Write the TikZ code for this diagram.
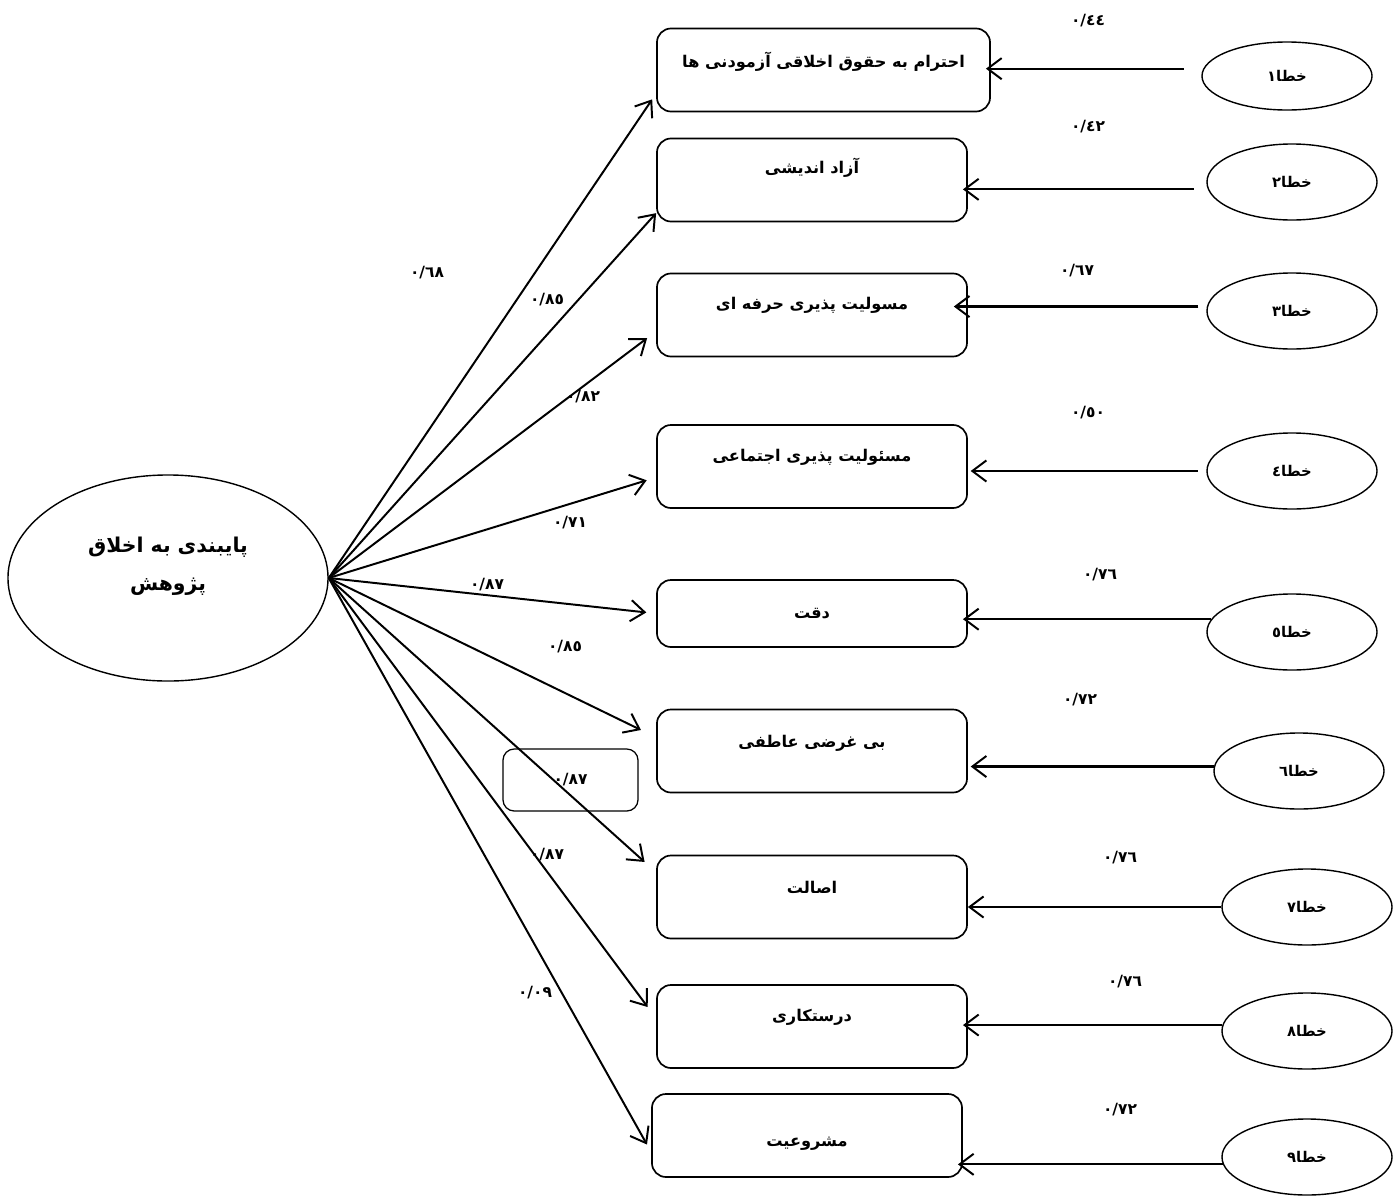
\documentclass[tikz,border=0pt]{standalone}
\usepackage{fontspec}
\usetikzlibrary{arrows.meta,shapes.geometric}
\newfontfamily\farsifont[Script=Arabic]{DejaVu Sans}
\TeXXeTstate=1
\tikzset{
  itembox/.style={draw, line width=1.2pt, rounded corners=10pt, minimum width=7.75cm, minimum height=2.075cm},
  itemtext/.style={font=\farsifont\bfseries\fontsize{11.5}{13}\selectfont},
  errnode/.style={draw, ellipse, line width=1pt, minimum width=4.25cm, minimum height=1.9cm, inner sep=0pt,
    font=\farsifont\bfseries\fontsize{10.5}{12}\selectfont},
  latent/.style={draw, ellipse, line width=1pt, minimum width=8cm, minimum height=5.15cm},
  latenttext/.style={font=\farsifont\bfseries\fontsize{14.5}{27}\selectfont, align=center},
  coef/.style={font=\farsifont\bfseries\fontsize{11}{12}\selectfont, inner sep=1pt},
  floatbox/.style={draw, line width=0.9pt, rounded corners=8pt, minimum width=3.375cm, minimum height=1.55cm, coef},
  patharrow/.style={line width=1.4pt, -{Straight Barb[length=10pt,width=15pt,line width=1.4pt]}},
  errarrow/.style={line width=1.5pt, -{Straight Barb[length=10pt,width=15pt,line width=1.4pt]}}
}
\begin{document}
\begin{tikzpicture}[x=0.025cm,y=-0.025cm]
\useasboundingbox (0,0) rectangle (1397,1198);
% Latent variable
\node[latent, label={[latenttext,yshift=8.5pt]center:{\beginR پایبندی به اخلاق\endR\\\beginR پژوهش\endR}}] (lat) at (168,578) {};
% Indicators
\node[itembox, minimum width=8.325cm, label={[itemtext,yshift=5.7pt]center:{\beginR احترام به حقوق اخلاقی آزمودنی ها\endR}}] (b1) at (823.5,70) {};
\node[itembox, label={[itemtext,yshift=8.5pt]center:{\beginR آزاد اندیشی\endR}}] (b2) at (812,180) {};
\node[itembox, label={[itemtext,yshift=7pt]center:{\beginR مسولیت پذیری حرفه ای\endR}}] (b3) at (812,315) {};
\node[itembox, label={[itemtext,yshift=6.7pt]center:{\beginR مسئولیت پذیری اجتماعی\endR}}] (b4) at (812,466.5) {};
\node[itembox, minimum height=1.675cm, label={[itemtext]center:{\beginR دقت\endR}}] (b5) at (812,613.5) {};
\node[itembox, label={[itemtext,yshift=5.7pt]center:{\beginR بی غرضی عاطفی\endR}}] (b6) at (812,751) {};
\node[itembox, label={[itemtext,yshift=7pt]center:{\beginR اصالت\endR}}] (b7) at (812,897) {};
\node[itembox, label={[itemtext,yshift=6.7pt]center:{\beginR درستکاری\endR}}] (b8) at (812,1026.5) {};
\node[itembox, label={[itemtext,yshift=-5.7pt]center:{\beginR مشروعیت\endR}}] (b9) at (807,1135.5) {};
% Error terms
\node[errnode, minimum height=1.7cm] (e1) at (1287,76) {\beginR خطا١\endR};
\node[errnode] (e2) at (1292,182) {\beginR خطا٢\endR};
\node[errnode] (e3) at (1292,311) {\beginR خطا٣\endR};
\node[errnode] (e4) at (1292,471) {\beginR خطا٤\endR};
\node[errnode] (e5) at (1292,632) {\beginR خطا٥\endR};
\node[errnode] (e6) at (1299,771) {\beginR خطا٦\endR};
\node[errnode] (e7) at (1307,907) {\beginR خطا٧\endR};
\node[errnode] (e8) at (1307,1031) {\beginR خطا٨\endR};
\node[errnode] (e9) at (1307,1157) {\beginR خطا٩\endR};
% Loadings
\foreach \i/\a/\s in {1/188/5pt, 2/192/0pt, 3/186/8pt, 4/184/7pt, 5/180/7pt, 6/175/12pt, 7/171/11pt, 8/177/10pt, 9/186/6pt}
  \draw[patharrow, shorten >=\s] (lat.east) -- (b\i.\a);
% Error paths
\foreach \i/\a/\s/\t in {1/175/14pt/-3.5pt, 2/185/10pt/-3.5pt, 3/177/6pt/-10pt, 4/180/6pt/2pt, 5/171.5/0pt/-3.5pt,
  6/177/0pt/2pt, 7/180/0pt/0pt, 8/176.5/0pt/-3.5pt, 9/185/0pt/-3.5pt}
  \draw[errarrow, shorten <=\s, shorten >=\t] (e\i.\a) -- (e\i.\a -| b\i.east);
% Coefficients
\node[coef] (l1) at (427,273) {٠/٦٨};
\node[coef] (l2) at (547,300) {٠/٨٥};
\node[coef] (l3) at (583,397) {٠/٨٢};
\node[coef] (l4) at (570,523) {٠/٧١};
\node[coef] (l5) at (487,585) {٠/٨٧};
\node[coef] (l6) at (565,647) {٠/٨٥};
\node[floatbox] (l7) at (570.5,780) {٠/٨٧};
\node[coef] (l8) at (547,855) {٠/٨٧};
\node[coef] (l9) at (535,993) {٠/٠٩};
\node[coef] (r1) at (1088,21) {٠/٤٤};
\node[coef] (r2) at (1088,127) {٠/٤٢};
\node[coef] (r3) at (1077,271) {٠/٦٧};
\node[coef] (r4) at (1088,413) {٠/٥٠};
\node[coef] (r5) at (1100,575) {٠/٧٦};
\node[coef] (r6) at (1080,700) {٠/٧٢};
\node[coef] (r7) at (1120,858) {٠/٧٦};
\node[coef] (r8) at (1125,982) {٠/٧٦};
\node[coef] (r9) at (1120,1110) {٠/٧٢};
\end{tikzpicture}
\end{document}
